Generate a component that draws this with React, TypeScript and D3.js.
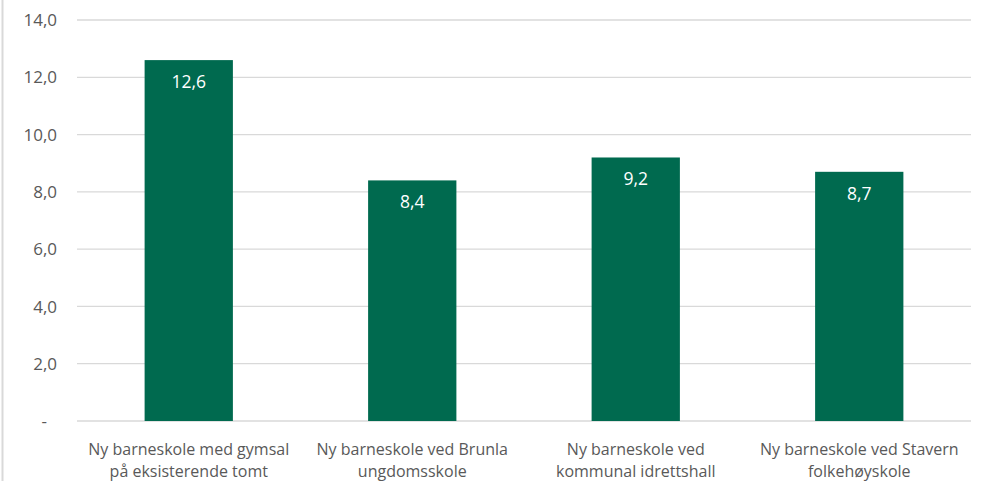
import React from "react";
import * as d3 from "d3";

const categories: string[][] = [
  ["Ny barneskole med gymsal", "på eksisterende tomt"],
  ["Ny barneskole ved Brunla", "ungdomsskole"],
  ["Ny barneskole ved", "kommunal idrettshall"],
  ["Ny barneskole ved Stavern", "folkehøyskole"],
];
const values: number[] = [12.6, 8.4, 9.2, 8.7];
const yTicks: number[] = [0, 2, 4, 6, 8, 10, 12, 14];

const W = 982;
const H = 481;
const left = 77;
const right = 971;
const top = 20;
const bottom = 421;
const font = "'Open Sans', 'Noto Sans', sans-serif";
const fmt = (v: number) => (v === 0 ? "-" : v.toFixed(1).replace(".", ","));

export default function App() {
  const x = d3
    .scaleBand<number>()
    .domain(values.map((_, i) => i))
    .range([left, right])
    .padding(0);
  const y = d3.scaleLinear().domain([0, 14]).range([bottom, top]);
  const bw = x.bandwidth() * 0.395;
  return (
    <svg
      width={W}
      height={H}
      style={{ position: "absolute", left: 0, top: 0, background: "#fff" }}
    >
      <line x1={2.5} x2={2.5} y1={0} y2={H} stroke="#d9d9d9" strokeWidth={2} />
      {yTicks.map((t) => (
        <g key={t}>
          <line
            x1={left}
            x2={right}
            y1={y(t)}
            y2={y(t)}
            stroke="#d9d9d9"
            strokeWidth={1.3}
          />
          <text
            x={t === 0 ? 47 : 57}
            y={y(t)}
            dy="0.36em"
            textAnchor="end"
            fontFamily={font}
            fontSize={17}
            fill="#595959"
          >
            {fmt(t)}
          </text>
        </g>
      ))}
      {values.map((v, i) => {
        const cx = (x(i) as number) + x.bandwidth() / 2;
        return (
          <g key={i}>
            <rect
              x={cx - bw / 2}
              y={y(v)}
              width={bw}
              height={y(0) - y(v)}
              fill="#006a4f"
            />
            <text
              x={cx}
              y={y(v) + 28}
              textAnchor="middle"
              fontFamily={font}
              fontSize={17.5}
              fill="#ffffff"
            >
              {fmt(v)}
            </text>
            {categories[i].map((line, j) => (
              <text
                key={j}
                x={cx}
                y={455 + j * 21.5}
                textAnchor="middle"
                fontFamily={font}
                fontSize={16}
                fill="#595959"
              >
                {line}
              </text>
            ))}
          </g>
        );
      })}
    </svg>
  );
}
